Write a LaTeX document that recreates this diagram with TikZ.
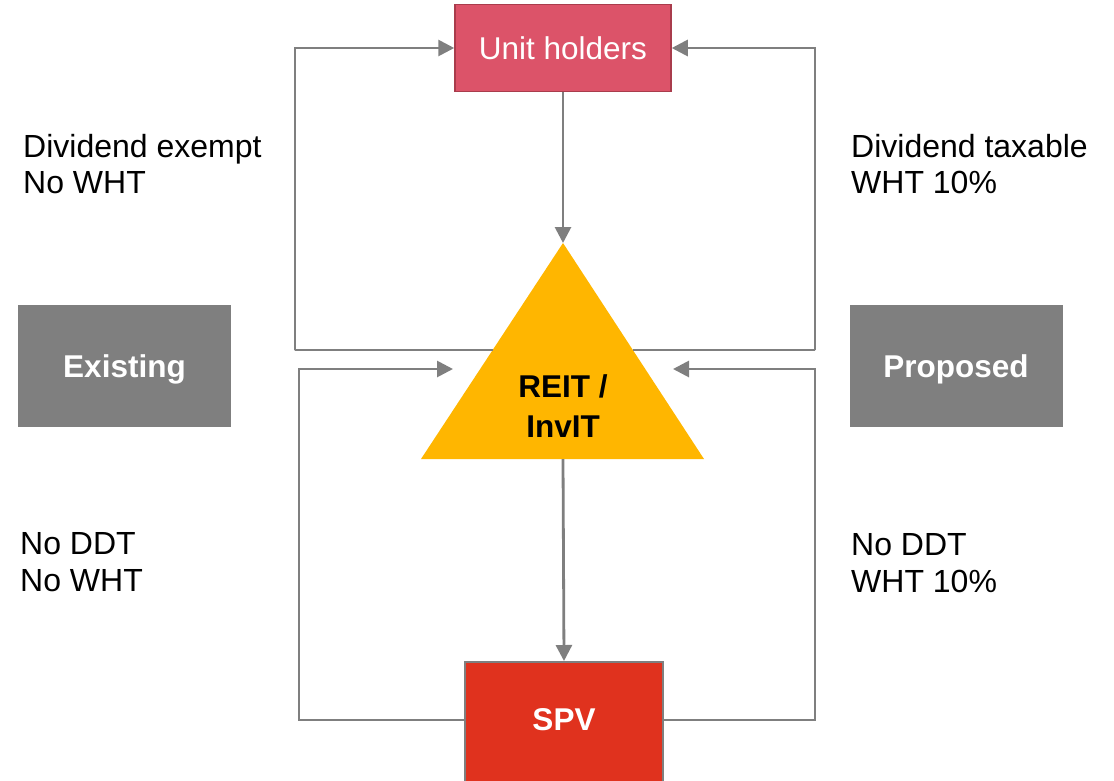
\documentclass[tikz,border=0pt]{standalone}
\usepackage{fontspec}
\setmainfont{Liberation Sans}
\usetikzlibrary{arrows.meta,calc}
\definecolor{unitred}{HTML}{DC5369}
\definecolor{unitedge}{HTML}{A93C4C}
\definecolor{reitgold}{HTML}{FFB600}
\definecolor{spvred}{HTML}{E0321E}
\definecolor{linegray}{HTML}{7F7F7F}
\tikzset{
  flow/.style={draw=linegray, line width=2.8pt, -{Triangle[length=16pt,width=16pt]}},
  label/.style={font=\fontsize{32}{36.5}\selectfont, align=left, anchor=west, inner sep=0pt},
  tag/.style={fill=linegray, text=white, font=\fontsize{31.5}{36}\selectfont\bfseries,
              minimum width=213pt, minimum height=122pt, inner sep=0pt,
              text height=22.5pt, text depth=0pt},
}
\begin{document}
\begin{tikzpicture}[x=1pt,y=-1pt]
\useasboundingbox (0,0) rectangle (1114,780);

% boxes
\node[draw=unitedge, line width=1.5pt, fill=unitred, text=white,
      font=\fontsize{31.5}{36}\selectfont, minimum width=216pt, minimum height=87pt,
      inner sep=0pt, text height=22.5pt, text depth=0pt] (units) at (563,48) {Unit holders};
\node[draw=linegray, line width=1.5pt, fill=spvred, minimum width=198pt, minimum height=140pt,
      inner sep=0pt, anchor=north] (spv) at (564,661) {};
\node[text=white, font=\fontsize{31.5}{36}\selectfont\bfseries] (spvtext) at (564,720) {SPV};

% REIT / InvIT triangle
\coordinate (apex) at (563,243);
\coordinate (baseL) at (421,459);
\coordinate (baseR) at (704,459);
\fill[reitgold] (apex) -- (baseR) -- (baseL) -- cycle;
\node[font=\fontsize{31.5}{40}\selectfont\bfseries, align=center] (reit) at (563,406) {REIT /\\InvIT};
\coordinate (triL) at ($(apex)!0.495!(baseL)$);
\coordinate (triR) at ($(apex)!0.495!(baseR)$);
\coordinate (triBottom) at (563,459);

% side tags
\node[tag] (existing) at (124.5,366) {Existing};
\node[tag] (proposed) at (956,366) {Proposed};

% labels
\node[label] (lt) at (23,164) {Dividend exempt\\No WHT};
\node[label] (rt) at (851,164) {Dividend taxable\\WHT 10\%};
\node[label] (lb) at (20,562) {No DDT\\No WHT};
\node[label] (rb) at (851,563) {No DDT\\WHT 10\%};

% vertical flows
\draw[flow] (units.south) -- (apex);
\draw[flow] (triBottom) -- (spv.north);

% distribution loops to unit holders
\draw[flow] (triL) -| (295,350) |- (units.west);
\draw[flow] (triR) -| (815,350) |- (units.east);

% loops from SPV back to the trust
\coordinate (inL) at (453,369);
\coordinate (inR) at (673,369);
\draw[flow] (spv.west |- 0,720) -| (299,369) -- (inL);
\draw[flow] (spv.east |- 0,720) -| (815,369) -- (inR);
\end{tikzpicture}
\end{document}
